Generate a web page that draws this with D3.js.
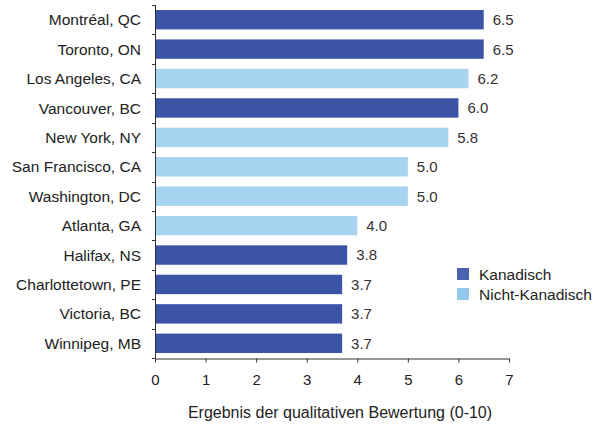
<!DOCTYPE html>
<html>
<head>
<meta charset="utf-8">
<script src="https://cdn.jsdelivr.net/npm/d3@7"></script>
<style>
  html, body { margin: 0; padding: 0; background: #fff; }
  svg { display: block; font-family: "Liberation Sans", Arial, Helvetica, sans-serif; }
</style>
</head>
<body>
<svg id="chart" width="599" height="426"></svg>
<script>
// City names, scores and whether each city is Canadian
const cities = [
  "Montréal, QC", "Toronto, ON", "Los Angeles, CA", "Vancouver, BC",
  "New York, NY", "San Francisco, CA", "Washington, DC", "Atlanta, GA",
  "Halifax, NS", "Charlottetown, PE", "Victoria, BC", "Winnipeg, MB"
];
const scores = [6.5, 6.5, 6.2, 6.0, 5.8, 5.0, 5.0, 4.0, 3.8, 3.7, 3.7, 3.7];
const canadian = [true, true, false, true, false, false, false, false, true, true, true, true];
const xTicks = [0, 1, 2, 3, 4, 5, 6, 7];
const legendLabels = ["Kanadisch", "Nicht-Kanadisch"];
const axisTitle = "Ergebnis der qualitativen Bewertung (0-10)";

const colDark = "#3b54a6";
const colLight = "#a6d3ef";
const fs = 15.5;

const svg = d3.select("#chart");

const x = d3.scaleLinear().domain([0, 7]).range([155, 509]);
const y = d3.scaleBand().domain(cities).range([5, 358]).paddingInner(0.34).paddingOuter(0.17);

const data = cities.map((c, i) => ({ city: c, score: scores[i], ca: canadian[i] }));

// Bars
svg.append("g").selectAll("rect").data(data).join("rect")
  .attr("x", x(0))
  .attr("y", d => y(d.city))
  .attr("width", d => x(d.score) - x(0))
  .attr("height", y.bandwidth())
  .attr("fill", d => d.ca ? colDark : colLight);

// Value labels
svg.append("g").selectAll("text").data(data).join("text")
  .attr("x", d => x(d.score) + 9)
  .attr("y", d => y(d.city) + y.bandwidth() / 2)
  .attr("dy", "0.36em")
  .attr("font-size", 15)
  .attr("fill", "#333")
  .text(d => d.score.toFixed(1));

// Category labels
svg.append("g").selectAll("text").data(data).join("text")
  .attr("x", 141)
  .attr("y", d => y(d.city) + y.bandwidth() / 2)
  .attr("dy", "0.36em")
  .attr("text-anchor", "end")
  .attr("font-size", fs)
  .attr("fill", "#222")
  .text(d => d.city);

// Y axis line with ticks at band boundaries
const yAxisG = svg.append("g").attr("stroke", "#333").attr("stroke-width", 1);
yAxisG.append("line")
  .attr("x1", x(0) + 0.5).attr("x2", x(0) + 0.5)
  .attr("y1", y.range()[0]).attr("y2", y.range()[1]);
const bounds = d3.range(cities.length + 1).map(i => y.range()[0] + i * (y.range()[1] - y.range()[0]) / cities.length);
yAxisG.selectAll("line.tick").data(bounds).join("line")
  .attr("class", "tick")
  .attr("x1", x(0) - 3).attr("x2", x(0) + 0.5)
  .attr("y1", d => Math.round(d) + 0.5).attr("y2", d => Math.round(d) + 0.5);

// X axis
const xAxis = d3.axisBottom(x).tickValues(xTicks).tickSize(4).tickSizeOuter(0).tickPadding(12).tickFormat(d3.format("d"));
const gx = svg.append("g").attr("transform", "translate(0,358.5)").call(xAxis);
gx.select(".domain").attr("stroke", "#333");
gx.selectAll(".tick line").attr("stroke", "#333");
gx.selectAll(".tick text").attr("font-size", 15).attr("fill", "#222")
  .attr("font-family", "'Liberation Sans', Arial, sans-serif");

// Axis title
svg.append("text")
  .attr("x", 340).attr("y", 418)
  .attr("text-anchor", "middle")
  .attr("font-size", 16)
  .attr("fill", "#222")
  .text(axisTitle);

// Legend
const legend = svg.append("g").attr("transform", "translate(457,268)");
legendLabels.forEach((lab, i) => {
  const g = legend.append("g").attr("transform", `translate(0,${i * 20})`);
  g.append("rect").attr("width", 12).attr("height", 12)
    .attr("fill", i === 0 ? "#4a63b0" : "#94c9ec");
  g.append("text").attr("x", 22).attr("y", 6).attr("dy", "0.36em")
    .attr("font-size", fs).attr("fill", "#222").text(lab);
});
</script>
</body>
</html>
